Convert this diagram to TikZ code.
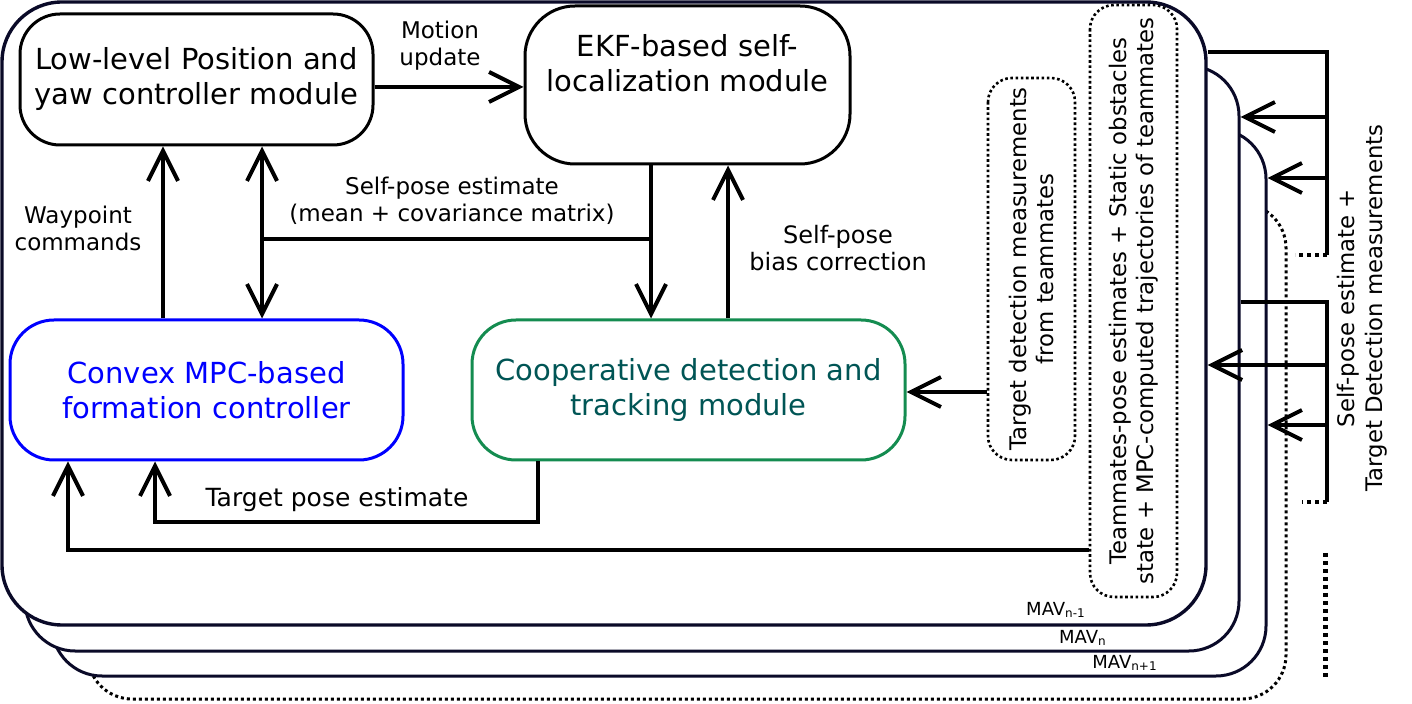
\documentclass[tikz,border=0pt]{standalone}
\usepackage{fontspec}
\setmainfont{DejaVu Sans}
\usetikzlibrary{arrows.meta}
\definecolor{framenavy}{RGB}{10,10,40}
\definecolor{coopgreen}{RGB}{20,140,80}
\definecolor{coopteal}{RGB}{0,85,85}
\tikzset{
  module/.style={draw,line width=1.5pt,fill=white,align=center,inner sep=0pt,font=\fontsize{14.5}{17.5}\selectfont},
  mavframe/.style={draw=framenavy,line width=1.5pt,fill=white,inner sep=0pt},
  infobox/.style={draw,line width=1.3pt,dash pattern=on 1.3pt off 1.3pt,rounded corners=12pt,rotate=90,align=center,inner sep=0pt,font=\fontsize{11.4}{13.5}\selectfont},
  lbl/.style={align=center,inner sep=1pt,font=\fontsize{11.5}{13.5}\selectfont},
  mavlbl/.style={inner sep=0pt,font=\fontsize{9}{10}\selectfont},
  conn/.style={line width=2pt},
  more/.style={line width=2pt,dash pattern=on 2pt off 2pt},
}

\begin{document}
\begin{tikzpicture}[x=0.5pt,y=-0.5pt,>={Straight Barb[length=15pt,width=15pt]}]
\useasboundingbox (0,0) rectangle (1412,704);
% stacked MAV frames, back to front
\node[mavframe,draw=black,dash pattern=on 1.5pt off 1.5pt,rounded corners=22pt,minimum width=599pt,minimum height=247.5pt] (mavmore) at (687,451.5) {};
\node[mavframe,rounded corners=25pt,minimum width=607pt,minimum height=273.5pt] (mavnext) at (659,402.5) {};
\node[mavframe,rounded corners=25pt,minimum width=607pt,minimum height=292.5pt] (mavcur) at (632,358.5) {};
\node[mavframe,line width=1.7pt,rounded corners=30pt,minimum width=602pt,minimum height=311.5pt] (mavprev) at (604,313.5) {};
\node[mavlbl] (lblprev) at (1056,610) {MAV\textsubscript{n-1}};
\node[mavlbl] (lblcur) at (1083,638) {MAV\textsubscript{n}};
\node[mavlbl] (lblnext) at (1125,663) {MAV\textsubscript{n+1}};
% modules
\node[module,rounded corners=20pt,minimum width=176.5pt,minimum height=65.5pt] (low) at (196.5,79.5) {Low-level Position and\\yaw controller module};
\node[module,rounded corners=25pt,minimum width=162.5pt,minimum height=79pt] (ekf) at (687.5,85) {};
\node[align=center,font=\fontsize{14.5}{17.5}\selectfont] (ekftext) at (687.5,63) {EKF-based self-\\localization module};
\node[module,draw=blue,text=blue,rounded corners=22pt,minimum width=196.5pt,minimum height=70pt] (mpc) at (206.5,390) {Convex MPC-based\\formation controller};
\node[module,draw=coopgreen,text=coopteal,rounded corners=22pt,minimum width=216.5pt,minimum height=70pt] (coop) at (688.5,390) {Cooperative detection and\\tracking module};
% messages from teammates
\node[infobox,minimum width=191pt,minimum height=43.5pt] (tdm) at (1031.5,269) {Target detection measurements\\from teammates};
\node[infobox,minimum width=296pt,minimum height=43.5pt] (tps) at (1133.5,301) {Teammates-pose estimates + Static obstacles\\state + MPC-computed trajectories of teammates};
\node[lbl,rotate=90,font=\fontsize{11.4}{13.8}\selectfont] (sptd) at (1362,308) {Self-pose estimate +\\Target Detection measurements};
% labels
\node[lbl] (motionlbl) at (440,46) {Motion\\update};
\node[lbl] (waylbl) at (78,228) {Waypoint\\commands};
\node[lbl] (selflbl) at (452,201) {Self-pose estimate\\(mean + covariance matrix)};
\node[lbl,font=\fontsize{12}{13.5}\selectfont] (biaslbl) at (838,248) {Self-pose\\bias correction};
\node[lbl,font=\fontsize{12.5}{14}\selectfont] (targetlbl) at (337,500) {Target pose estimate};
% connectors inside one MAV
\coordinate (lowjoin) at (262,239);
\coordinate (selfjoin) at (651,239);
\draw[conn,->] (low.east |- 0,87) -- (ekf.west |- 0,87);
\draw[conn,->] (163,0 |- mpc.north) -- (163,0 |- low.south);
\draw[conn,<->] (262,0 |- low.south) -- (262,0 |- mpc.north);
\draw[conn,->] (651,0 |- ekf.south) -- (651,0 |- coop.north);
\draw[conn] (selfjoin) -- (lowjoin);
\draw[conn,->] (728,0 |- coop.north) -- (728,0 |- ekf.south);
\draw[conn,->] (538,0 |- coop.south) -- (538,522) -| (155,0 |- mpc.south);
\draw[conn,->] (tps.north |- 0,550) -| (68,0 |- mpc.south);
\draw[conn,->] (tdm.north |- 0,392) -- (coop.east |- 0,392);
% exchange between MAVs
\coordinate (busa) at (1327,52);
\coordinate (busaend) at (1327,255);
\coordinate (busb) at (1327,302);
\coordinate (busbend) at (1327,502);
\draw[conn] (mavprev.east |- busa) -- (busa) -- (busaend);
\draw[more] (busaend) -- ++(-32,0);
\foreach \y/\f in {117/mavcur,178/mavnext}
  \draw[conn,->] (busa |- 0,\y) -- (\f.east |- 0,\y);
\draw[conn] (mavcur.east |- busb) -- (busb) -- (busbend);
\draw[more] (busbend) -- ++(-25,0);
\foreach \y/\f in {365/mavprev,425/mavnext}
  \draw[conn,->] (busb |- 0,\y) -- (\f.east |- 0,\y);
\draw[more,line width=2.5pt] (1325,553) -- (1325,677);
\end{tikzpicture}
\end{document}
